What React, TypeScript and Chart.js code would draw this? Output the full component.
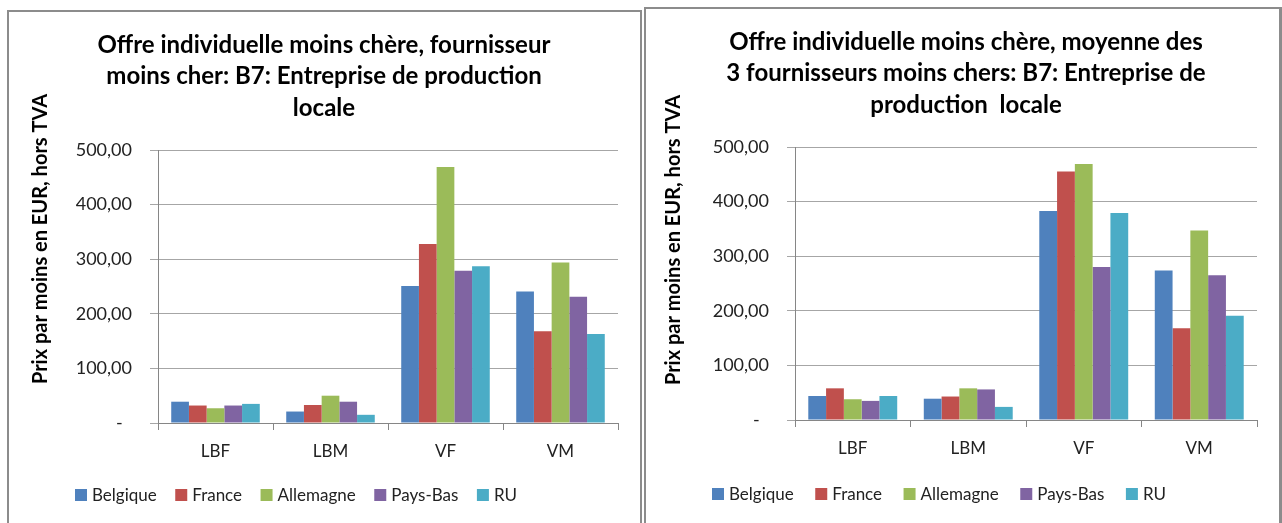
import React, { useEffect, useRef } from "react";
import { Chart, registerables } from "chart.js";

Chart.register(...registerables);

const FONT = "Lato, 'DejaVu Sans', sans-serif";

const CATEGORIES = ["LBF", "LBM", "VF", "VM"];
const SERIES = ["Belgique", "France", "Allemagne", "Pays-Bas", "RU"];
const COLORS = ["#4F81BD", "#C0504D", "#9BBB59", "#8064A2", "#4BACC6"];

// Left chart: fournisseur moins cher
const L_BELGIQUE = [39, 21, 251, 241];
const L_FRANCE = [32, 33, 328, 168];
const L_ALLEMAGNE = [27, 50, 469, 294];
const L_PAYSBAS = [32, 39, 279, 231];
const L_RU = [35, 15, 287, 163];

// Right chart: moyenne des 3 fournisseurs moins chers
const R_BELGIQUE = [44, 39, 383, 274];
const R_FRANCE = [58, 43, 455, 168];
const R_ALLEMAGNE = [38, 58, 469, 347];
const R_PAYSBAS = [35, 56, 280, 265];
const R_RU = [44, 24, 379, 191];

const Y_TICK_LABELS = ["-  ", "100,00", "200,00", "300,00", "400,00", "500,00"];
const Y_TITLE = "Prix par moins en EUR, hors TVA";
const LEFT_TITLE = [
  "Offre individuelle moins chère, fournisseur",
  "moins cher: B7: Entreprise de production",
  "locale",
];
const RIGHT_TITLE = [
  "Offre individuelle moins chère, moyenne des",
  "3 fournisseurs moins chers: B7: Entreprise de",
  "production  locale",
];

type Props = {
  title: string[];
  series: number[][];
  width: number;
  height: number;
  titleX: number;
  yTitleX: number;
  yTitleY: number;
  legendY: number;
  legendGap: number;
};

function BarChart({ title, series, width, height, titleX, yTitleX, yTitleY, legendY, legendGap }: Props) {
  const ref = useRef<HTMLCanvasElement | null>(null);
  useEffect(() => {
    if (!ref.current) return;
    const extras = {
      id: "extras",
      afterDraw(chart: any) {
        const ctx = chart.ctx;
        const area = chart.chartArea;
        // chart title
        ctx.save();
        ctx.font = `bold 24px ${FONT}`;
        ctx.fillStyle = "#000";
        ctx.textAlign = "center";
        ctx.textBaseline = "middle";
        title.forEach((line, i) => ctx.fillText(line, titleX, 33 + i * 31.5));
        ctx.restore();
        // y axis title
        ctx.save();
        ctx.translate(yTitleX, yTitleY);
        ctx.rotate(-Math.PI / 2);
        ctx.font = `bold 20px ${FONT}`;
        ctx.fillStyle = "#000";
        ctx.textAlign = "center";
        ctx.textBaseline = "middle";
        ctx.fillText(Y_TITLE, 0, 0);
        ctx.restore();
        // legend
        ctx.save();
        ctx.font = `17px ${FONT}`;
        ctx.textBaseline = "middle";
        ctx.textAlign = "left";
        let x = area.left - 83;
        const box = 12;
        chart.data.datasets.forEach((ds: any) => {
          ctx.fillStyle = ds.backgroundColor;
          ctx.fillRect(x, legendY - box / 2, box, box);
          x += box + 5;
          ctx.fillStyle = "#222";
          ctx.fillText(ds.label, x, legendY + 1);
          x += ctx.measureText(ds.label).width + legendGap;
        });
        ctx.restore();
      },
    };
    const chart = new Chart(ref.current, {
      type: "bar",
      data: {
        labels: CATEGORIES,
        datasets: SERIES.map((name, i) => ({
          label: name,
          data: series[i],
          backgroundColor: COLORS[i],
          borderWidth: 0,
          categoryPercentage: 0.77,
          barPercentage: 1,
        })),
      },
      options: {
        responsive: false,
        animation: false,
        layout: { padding: { left: 0, right: 22, top: 138, bottom: 50 } },
        plugins: {
          legend: { display: false },
          tooltip: { enabled: false },
          title: { display: false },
        },
        scales: {
          x: {
            grid: {
              display: true,
              drawOnChartArea: false,
              drawTicks: true,
              tickLength: 7,
              color: "#868686",
              offset: true,
            },
            border: { color: "#868686", width: 1 },
            ticks: { font: { family: FONT, size: 17 }, color: "#222", padding: 11 },
            afterFit: (s: any) => {
              s.height = 60;
            },
          },
          y: {
            min: 0,
            max: 500,
            ticks: {
              stepSize: 100,
              padding: 18,
              font: { family: FONT, size: 18 },
              color: "#222",
              callback: (_v: any, i: number) => Y_TICK_LABELS[i],
            },
            grid: { color: "#a6a6a6", tickLength: 8 },
            border: { color: "#868686", width: 1 },
            afterFit: (s: any) => {
              s.width = 149;
            },
          },
        },
      },
      plugins: [extras],
    });
    return () => chart.destroy();
  }, []);
  return <canvas ref={ref} width={width} height={height} style={{ display: "block" }} />;
}

export default function App() {
  return (
    <div
      style={{
        position: "fixed",
        left: 0,
        top: 0,
        width: 1282,
        height: 523,
        overflow: "hidden",
        background: "#fff",
      }}
    >
      <div
        style={{
          position: "absolute",
          left: 7,
          top: 10,
          width: 631,
          height: 521,
          border: "2px solid #8c8c8c",
          background: "#fff",
        }}
      >
        <BarChart
          title={LEFT_TITLE}
          series={[L_BELGIQUE, L_FRANCE, L_ALLEMAGNE, L_PAYSBAS, L_RU]}
          width={631}
          height={521}
          titleX={315}
          yTitleX={32}
          yTitleY={227}
          legendY={483}
          legendGap={18.5}
        />
      </div>
      <div
        style={{
          position: "absolute",
          left: 644,
          top: 7,
          width: 633,
          height: 521,
          border: "2px solid #8c8c8c",
          borderRightWidth: 3,
          background: "#fff",
        }}
      >
        <BarChart
          title={RIGHT_TITLE}
          series={[R_BELGIQUE, R_FRANCE, R_ALLEMAGNE, R_PAYSBAS, R_RU]}
          width={633}
          height={521}
          titleX={320}
          yTitleX={28}
          yTitleY={231}
          legendY={485}
          legendGap={21.5}
        />
      </div>
    </div>
  );
}
